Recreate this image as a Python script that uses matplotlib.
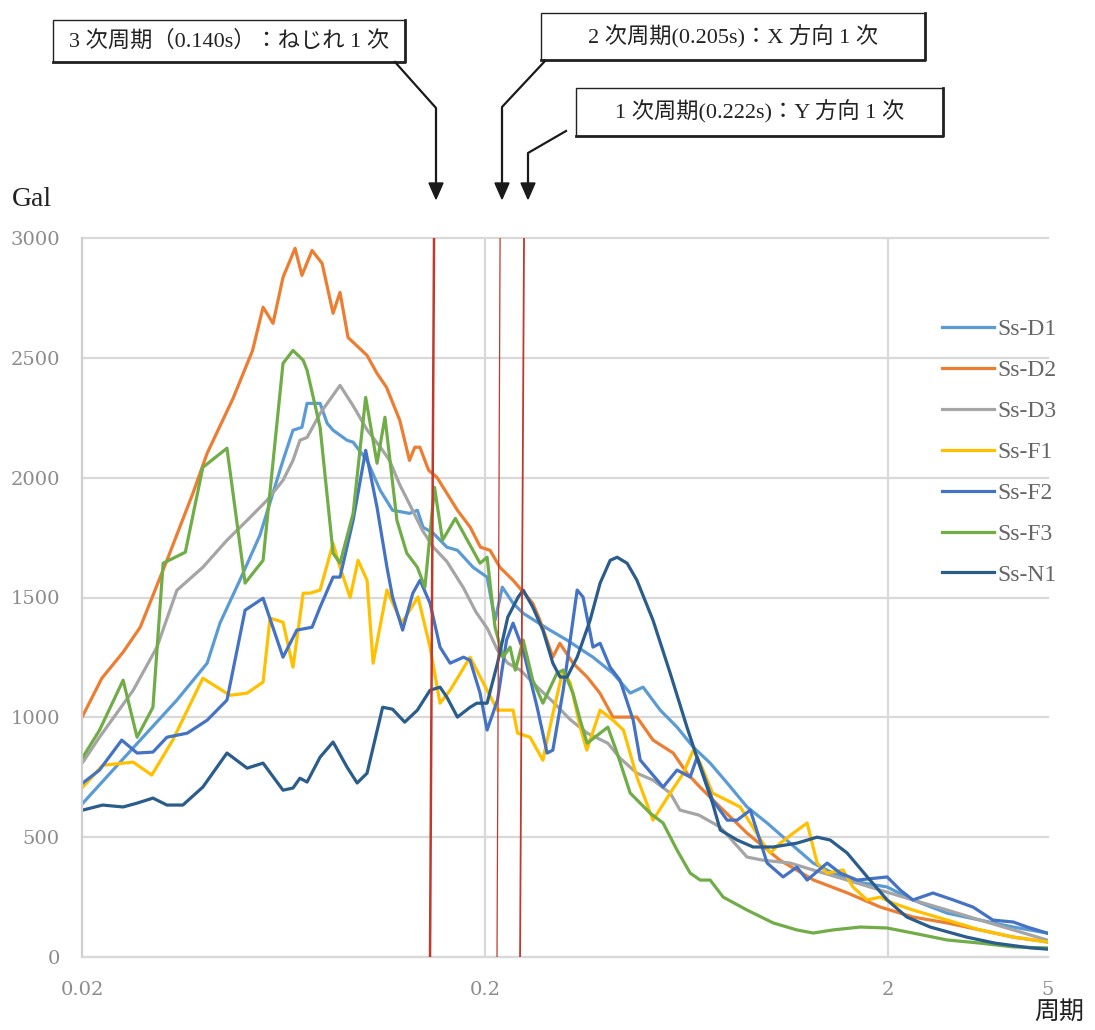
import matplotlib
matplotlib.use("Agg")
from matplotlib import pyplot as plt
from matplotlib.lines import Line2D
from matplotlib.patches import Rectangle, Polygon

plt.rcParams['font.family'] = ['Liberation Serif', 'Noto Sans CJK JP', 'DejaVu Sans']

# ---- data : period (s) / response acceleration (Gal) ----
d1_t = [0.0201, 0.0279, 0.0344, 0.0409, 0.044, 0.0493, 0.0553, 0.0631, 0.0668, 0.0703,
        0.0724, 0.078, 0.0812, 0.084, 0.091, 0.0942, 0.102, 0.110, 0.118, 0.130,
        0.136, 0.1405, 0.149, 0.161, 0.171, 0.187, 0.2026, 0.212, 0.221, 0.235,
        0.249, 0.290, 0.320, 0.371, 0.416, 0.459, 0.494, 0.545, 0.600, 0.658,
        0.725, 0.799, 0.895, 1.004, 1.145, 1.306, 1.464, 1.738, 1.994, 2.31,
        2.81, 3.39, 4.10, 4.97]
d1_g = [642, 905, 1072, 1226, 1393, 1572, 1760, 2072, 2198, 2210,
        2310, 2310, 2227, 2198, 2156, 2148, 2072, 1947, 1864, 1851,
        1864, 1793, 1768, 1710, 1697, 1626, 1585, 1405, 1543, 1476,
        1434, 1364, 1322, 1251, 1184, 1101, 1126, 1030, 959, 876,
        809, 726, 626, 559, 475, 392, 350, 309, 292, 238,
        183, 154, 125, 100]

d2_t = [0.020, 0.0224, 0.0253, 0.0279, 0.0325, 0.0377, 0.0409, 0.0474, 0.0530, 0.0563,
        0.0596, 0.0631, 0.0676, 0.0703, 0.0745, 0.0789, 0.0840, 0.0874, 0.0915, 0.102,
        0.108, 0.114, 0.123, 0.130, 0.134, 0.138, 0.145, 0.152, 0.171, 0.184,
        0.195, 0.206, 0.218, 0.235, 0.263, 0.274, 0.295, 0.307, 0.331, 0.359,
        0.386, 0.416, 0.477, 0.523, 0.587, 0.635, 0.684, 0.767, 0.895, 1.08,
        1.31, 1.59, 1.92, 2.31, 2.81, 3.39, 4.10, 4.97]
d2_g = [1000, 1163, 1272, 1376, 1655, 1935, 2102, 2330, 2530, 2711,
        2644, 2836, 2957, 2844, 2948, 2894, 2686, 2773, 2585, 2510,
        2435, 2377, 2239, 2072, 2127, 2127, 2031, 2002, 1864, 1793,
        1710, 1697, 1626, 1572, 1476, 1405, 1251, 1309, 1226, 1168,
        1101, 1001, 1001, 905, 851, 767, 709, 626, 517, 404,
        321, 267, 208, 167, 142, 113, 83, 63]

d3_t = [0.0201, 0.0221, 0.0268, 0.0307, 0.0344, 0.0399, 0.0458, 0.0514, 0.0576, 0.0631,
        0.0668, 0.0695, 0.0724, 0.078, 0.0874, 0.0942, 0.102, 0.1115, 0.116, 0.123,
        0.130, 0.140, 0.149, 0.161, 0.177, 0.190, 0.203, 0.215, 0.228, 0.245,
        0.270, 0.295, 0.326, 0.359, 0.404, 0.433, 0.477, 0.523, 0.577, 0.610,
        0.680, 0.768, 0.895, 0.98, 1.145, 1.306, 1.586, 1.917, 2.31, 2.81,
        3.39, 4.10, 4.97]
d3_g = [813, 917, 1113, 1293, 1530, 1626, 1739, 1822, 1906, 1989,
        2072, 2156, 2168, 2268, 2385, 2300, 2200, 2114, 2072, 1970,
        1890, 1780, 1710, 1650, 1540, 1440, 1370, 1280, 1226, 1197,
        1126, 1065, 990, 934, 892, 830, 767, 738, 684, 613,
        592, 542, 417, 404, 392, 363, 321, 279, 238, 196,
        154, 113, 71]

f1_t = [0.0201, 0.0225, 0.0268, 0.0298, 0.0336, 0.0399, 0.0466, 0.0514, 0.0563, 0.0586,
        0.0631, 0.0668, 0.0708, 0.0736, 0.078, 0.084, 0.0874, 0.0926, 0.0969, 0.102,
        0.1056, 0.1143, 0.1244, 0.1365, 0.1462, 0.1548, 0.164, 0.1838, 0.2026, 0.215,
        0.235, 0.2411, 0.259, 0.2787, 0.2952, 0.3126, 0.326, 0.345, 0.3582, 0.3865,
        0.416, 0.4416, 0.477, 0.523, 0.577, 0.622, 0.658, 0.685, 0.735, 0.861,
        0.98, 1.022, 1.082, 1.166, 1.262, 1.336, 1.415, 1.55, 1.64, 1.778,
        1.917, 2.06, 2.31, 2.81, 3.39, 4.10, 4.97]
f1_g = [709, 800, 813, 759, 905, 1163, 1092, 1101, 1147, 1414,
        1397, 1209, 1518, 1518, 1531, 1726, 1626, 1500, 1655, 1572,
        1226, 1531, 1393, 1502, 1293, 1059, 1113, 1251, 1113, 1030,
        1030, 934, 917, 821, 1017, 1197, 1143, 959, 863, 1030,
        988, 947, 751, 571, 684, 767, 863, 809, 684, 626,
        475, 434, 475, 517, 559, 392, 350, 363, 292, 238,
        250, 225, 196, 154, 113, 83, 63]

f2_t = [0.0201, 0.0221, 0.0251, 0.0274, 0.0300, 0.0325, 0.0365, 0.0409, 0.0458, 0.0508,
        0.0563, 0.0631, 0.0683, 0.0745, 0.078, 0.084, 0.0874, 0.0942, 0.1012, 0.108,
        0.1143, 0.118, 0.125, 0.1325, 0.1381, 0.1462, 0.1548, 0.164, 0.177, 0.1838,
        0.1946, 0.2026, 0.215, 0.2264, 0.235, 0.249, 0.2696, 0.2855, 0.295, 0.313,
        0.339, 0.3506, 0.371, 0.3865, 0.4093, 0.433, 0.467, 0.486, 0.554, 0.600,
        0.6467, 0.673, 0.725, 0.735, 0.799, 0.846, 0.912, 1.004, 1.10, 1.19,
        1.262, 1.415, 1.525, 1.679, 1.994, 2.15, 2.31, 2.59, 2.91, 3.26,
        3.65, 4.10, 4.44, 4.97]
f2_g = [726, 780, 905, 851, 855, 917, 934, 988, 1072, 1447,
        1497, 1251, 1364, 1376, 1460, 1585, 1585, 1822, 2114, 1876,
        1626, 1502, 1364, 1518, 1572, 1476, 1293, 1226, 1251, 1238,
        1101, 947, 1072, 1322, 1393, 1280, 1043, 851, 863, 1113,
        1531, 1502, 1293, 1309, 1209, 1155, 988, 822, 709, 780,
        751, 834, 684, 655, 571, 571, 613, 392, 334, 375,
        321, 392, 350, 321, 334, 279, 238, 267, 238, 208,
        154, 146, 125, 100]

f3_t = [0.0201, 0.0221, 0.0253, 0.0274, 0.0300, 0.0318, 0.0361, 0.0399, 0.0458, 0.0508,
        0.0563, 0.0631, 0.0668, 0.0708, 0.0724, 0.078, 0.084, 0.0874, 0.0942, 0.1012,
        0.108, 0.113, 0.121, 0.128, 0.136, 0.142, 0.150, 0.157, 0.169, 0.181,
        0.1946, 0.2026, 0.212, 0.222, 0.231, 0.238, 0.249, 0.263, 0.2787, 0.302,
        0.313, 0.331, 0.345, 0.359, 0.3865, 0.404, 0.426, 0.459, 0.5145, 0.554,
        0.600, 0.6467, 0.685, 0.725, 0.781, 0.895, 1.04, 1.19, 1.306, 1.464,
        1.71, 1.994, 2.31, 2.81, 3.39, 4.10, 4.97]
f3_g = [834, 946, 1155, 917, 1042, 1643, 1689, 2043, 2123, 1560,
        1655, 2477, 2531, 2490, 2448, 2210, 1685, 1643, 1851, 2335,
        2060, 2252, 1822, 1685, 1626, 1543, 1960, 1739, 1830, 1739,
        1643, 1668, 1376, 1251, 1293, 1197, 1322, 1155, 1059, 1184,
        1197, 1101, 988, 892, 934, 959, 851, 684, 600, 559,
        446, 350, 321, 321, 250, 196, 142, 113, 100, 113,
        125, 121, 100, 71, 58, 42, 38]

n1_t = [0.0201, 0.0225, 0.0253, 0.0274, 0.0300, 0.0325, 0.0356, 0.0399, 0.0458, 0.0514,
        0.0563, 0.0631, 0.0668, 0.0695, 0.0724, 0.078, 0.084, 0.091, 0.0964, 0.102,
        0.1115, 0.118, 0.1265, 0.136, 0.1462, 0.1548, 0.161, 0.171, 0.1838, 0.191,
        0.2026, 0.215, 0.228, 0.242, 0.249, 0.263, 0.2787, 0.295, 0.3075, 0.320,
        0.339, 0.365, 0.3865, 0.4093, 0.426, 0.451, 0.477, 0.523, 0.577, 0.635,
        0.685, 0.735, 0.768, 0.846, 0.927, 1.04, 1.19, 1.336, 1.44, 1.586,
        1.78, 1.994, 2.23, 2.55, 3.14, 3.69, 4.52, 4.97]
n1_g = [613, 634, 626, 642, 663, 634, 634, 709, 851, 788,
        809, 696, 705, 746, 730, 834, 897, 792, 726, 767,
        1042, 1034, 980, 1030, 1113, 1126, 1084, 1001, 1042, 1059,
        1059, 1226, 1418, 1502, 1531, 1460, 1364, 1226, 1168, 1168,
        1251, 1405, 1560, 1655, 1668, 1643, 1572, 1405, 1184, 959,
        792, 642, 530, 488, 459, 459, 475, 500, 488, 434,
        334, 238, 167, 125, 83, 58, 38, 33]

names = ["Ss-D1", "Ss-D2", "Ss-D3", "Ss-F1", "Ss-F2", "Ss-F3", "Ss-N1"]
colors = ["#5B9BD5", "#ED7D31", "#A5A5A5", "#FFC000", "#4472C4", "#70AD47", "#2A5C8C"]
series = [(d1_t, d1_g), (d2_t, d2_g), (d3_t, d3_g), (f1_t, f1_g),
          (f2_t, f2_g), (f3_t, f3_g), (n1_t, n1_g)]

# natural periods (red lines drawn slightly slanted as in the source)
mode_top = [0.1496, 0.2182, 0.2502]
mode_bot = [0.1462, 0.2144, 0.2446]
mode_lw = [1.8, 0.9, 1.3]
mode_txt = ["3 次周期（0.140s）：ねじれ 1 次",
            "2 次周期(0.205s)：X 方向 1 次",
            "1 次周期(0.222s)：Y 方向 1 次"]

xticks = [0.02, 0.2, 2, 5]
xlabels = ["0.02", "0.2", "2", "5"]
yticks = [0, 500, 1000, 1500, 2000, 2500, 3000]

W, H = 1095, 1030
def fp(x, y):
    return (x / W, 1 - y / H)

fig = plt.figure(figsize=(W / 100, H / 100), dpi=100)
ax = fig.add_axes([82 / W, 73 / H, 966 / W, 719 / H])
ax.set_xscale('log')
ax.set_xlim(0.02, 5)
ax.set_ylim(0, 3000)

grid_c = "#d9d9d9"
for v in yticks:
    ax.axhline(v, color=grid_c, lw=1.6, zorder=0, clip_on=False)
for v in [0.2, 2]:
    ax.axvline(v, color=grid_c, lw=1.6, zorder=0)
for s in ['top', 'right']:
    ax.spines[s].set_visible(False)
ax.spines['left'].set_color("#cfcfcf")
ax.spines['left'].set_linewidth(1.6)
ax.spines['bottom'].set_color(grid_c)
ax.spines['bottom'].set_linewidth(1.6)

for (t, g), c, n in zip(series, colors, names):
    ax.plot(t, g, color=c, lw=2.3, label=n, solid_joinstyle='round')

for a, b, w in zip(mode_top, mode_bot, mode_lw):
    ax.plot([a, b], [3000, 0], color="#C0392B", lw=w, zorder=5)

ax.set_xticks(xticks)
ax.set_xticklabels(xlabels)
ax.xaxis.set_minor_locator(matplotlib.ticker.NullLocator())
ax.set_yticks(yticks)
ax.tick_params(length=0, labelsize=14, labelcolor="#8c8c8c", labelfontfamily='DejaVu Serif')
ax.tick_params(axis='y', pad=16)
ax.tick_params(axis='x', pad=17)

leg = ax.legend(loc='upper left', bbox_to_anchor=fp(930, 307), bbox_transform=fig.transFigure,
                frameon=False, fontsize=17, handlelength=2.2, handletextpad=0.15,
                labelspacing=0.82, borderpad=0)
for tx in leg.get_texts():
    tx.set_color("#666666")

# axis captions
fig.text(*fp(12, 200), "Gal", fontsize=20, va='center', ha='left', color="#222222")
fig.text(*fp(1034, 1012), "周期", fontsize=18, va='center', ha='left', color="#222222",
         family=['Noto Sans CJK JP'])

# annotation boxes
boxes = [(53, 20, 405, 62), (541, 13, 925, 60), (576, 88, 943, 136)]
for (x0, y0, x1, y1), txt in zip(boxes, mode_txt):
    fig.add_artist(Rectangle(fp(x0, y1), (x1 - x0) / W, (y1 - y0) / H,
                             transform=fig.transFigure, fill=True, fc='white',
                             ec='#222222', lw=1.0))
    fig.add_artist(Line2D([x1 / W, x1 / W, x0 / W], [1 - y0 / H, 1 - y1 / H, 1 - y1 / H],
                          transform=fig.transFigure, color='#222222', lw=2.0))
    fig.text(*fp((x0 + x1) / 2, (y0 + y1) / 2), txt, fontsize=16, ha='center', va='center',
             color="#222222")

# leader arrows
arrows = [[(395, 62), (436, 108), (436, 186)],
          [(545, 61), (502, 107), (502, 186)],
          [(566, 131), (528, 153), (528, 186)]]
for pts in arrows:
    xs = [p[0] / W for p in pts]
    ys = [1 - p[1] / H for p in pts]
    fig.add_artist(Line2D(xs, ys, transform=fig.transFigure, color='#1a1a1a', lw=1.6))
    tx = pts[-1][0]
    tri = [fp(tx - 7, 183), fp(tx + 7, 183), fp(tx, 199)]
    fig.add_artist(Polygon(tri, closed=True, transform=fig.transFigure, color='#1a1a1a'))

fig.savefig("out.png", dpi=100)
